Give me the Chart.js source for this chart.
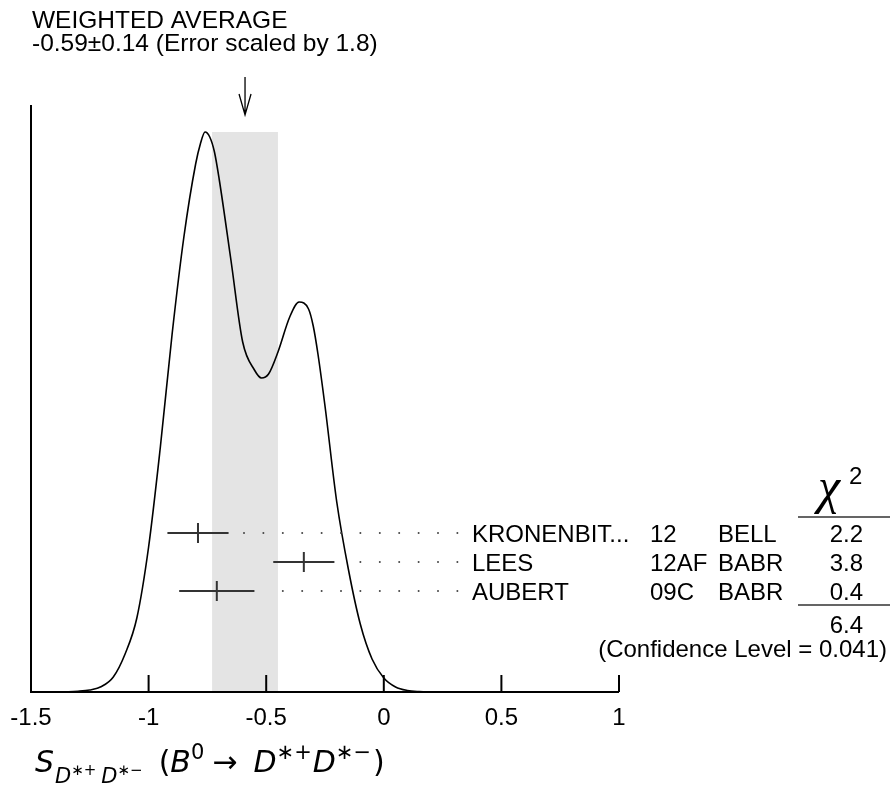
<!DOCTYPE html>
<html>
<head>
<meta charset="utf-8">
<script src="https://cdn.jsdelivr.net/npm/chart.js@4.4.1/dist/chart.umd.min.js"></script>
<style>
  html, body { margin: 0; padding: 0; background: #fff; }
  #wrap { width: 890px; height: 795px; }
</style>
</head>
<body>
<div id="wrap"><canvas id="ideogram" width="890" height="795"></canvas></div>
<script>
// ---------- Data ----------
// ideogram curve, arbitrary units
const curveX = [-1.5, -1.4, -1.3, -1.25, -1.2, -1.15, -1.1, -1.05, -1.0, -0.95, -0.9, -0.85, -0.8, -0.78, -0.76, -0.74, -0.72, -0.7, -0.65, -0.6, -0.55, -0.52, -0.49, -0.45, -0.4, -0.36, -0.32, -0.3, -0.28, -0.25, -0.2, -0.15, -0.1, -0.05, 0, 0.05, 0.1, 0.15, 0.2, 0.3, 1.0];
const curveY = [0, 0.1, 0.8, 2, 5.5, 15, 38, 74, 145, 245, 358, 455, 528, 548, 560, 555, 540, 513, 432, 350, 322, 314, 318, 340, 375, 390, 383, 366, 338, 286, 190, 122, 68, 33, 14, 5, 1.5, 0.4, 0.1, 0, 0];

const measNames = ["KRONENBIT...", "LEES", "AUBERT"];
const measYears = ["12", "12AF", "09C"];
const measExps = ["BELL", "BABR", "BABR"];
const measValues = [-0.79, -0.34, -0.71];
const measErrors = [0.13, 0.13, 0.16];
const measChi2 = ["2.2", "3.8", "0.4"];
const measRowY = [159, 130, 101]; // row heights, same units as the curve

const avgValue = -0.59;
const avgError = 0.14;
const errScale = "1.8";
const chi2Total = "6.4";
const confLevel = "0.041";

const xTicks = [-1.5, -1, -0.5, 0, 0.5, 1];
const xTickLabels = ["-1.5", "-1", "-0.5", "0", "0.5", "1"];

// ---------- Helpers ----------
const SANS = '"Liberation Sans", Arial, Helvetica, sans-serif';
const MATH = '"DejaVu Sans", sans-serif';

function drawPieces(ctx, x, y, pieces) {
  pieces.forEach((p) => {
    ctx.font = p.font;
    x += p.dx || 0;
    ctx.fillText(p.t, x, y + (p.dy || 0));
    x += ctx.measureText(p.t).width;
  });
}

// ---------- Axes, labels, error bars ----------
const ideogramDecor = {
  id: "ideogramDecor",
  afterDatasetsDraw(chart) {
    const ctx = chart.ctx;
    const xs = chart.scales.x;
    const ys = chart.scales.y;
    const area = chart.chartArea;
    ctx.save();
    ctx.fillStyle = "#000";
    ctx.strokeStyle = "#000";

    // axes
    ctx.lineWidth = 2;
    ctx.beginPath();
    ctx.moveTo(area.left, area.top);
    ctx.lineTo(area.left, area.bottom);
    ctx.lineTo(area.right, area.bottom);
    ctx.stroke();

    // inward ticks + labels
    ctx.font = "24px " + SANS;
    ctx.textAlign = "center";
    ctx.textBaseline = "alphabetic";
    xTicks.forEach((v, i) => {
      const px = xs.getPixelForValue(v);
      if (i > 0) {
        ctx.beginPath();
        ctx.moveTo(px, area.bottom);
        ctx.lineTo(px, area.bottom - 17);
        ctx.stroke();
      }
      ctx.fillText(xTickLabels[i], px, area.bottom + 33);
    });

    // arrow for the weighted average
    const ax = xs.getPixelForValue(avgValue);
    const bandTop = ys.getPixelForValue(Math.max(...curveY));
    const tip = bandTop - 17;
    ctx.lineWidth = 1.3;
    ctx.beginPath();
    ctx.moveTo(ax, tip - 38);
    ctx.lineTo(ax, tip);
    ctx.moveTo(ax - 6, tip - 21);
    ctx.lineTo(ax, tip);
    ctx.lineTo(ax + 6, tip - 21);
    ctx.stroke();

    // header text
    ctx.textAlign = "left";
    ctx.font = "24.5px " + SANS;
    ctx.fillText("WEIGHTED AVERAGE", 32, 28);
    ctx.fillText(avgValue.toFixed(2) + "\u00B1" + avgError.toFixed(2) + " (Error scaled by " + errScale + ")", 32, 51);

    // measurements: error bars, leader dots, table
    const labelX = 472;
    const dotStep = 19.4;
    measValues.forEach((v, i) => {
      const py = ys.getPixelForValue(measRowY[i]);
      const lo = xs.getPixelForValue(v - measErrors[i]);
      const hi = xs.getPixelForValue(v + measErrors[i]);
      const c = xs.getPixelForValue(v);
      ctx.strokeStyle = "#333";
      ctx.lineWidth = 2;
      ctx.beginPath();
      ctx.moveTo(lo, py);
      ctx.lineTo(hi, py);
      ctx.moveTo(c, py - 10);
      ctx.lineTo(c, py + 10);
      ctx.stroke();

      ctx.fillStyle = "#444";
      for (let dx = labelX - 14.6; dx > hi + 12; dx -= dotStep) {
        ctx.beginPath();
        ctx.arc(dx, py, 1, 0, Math.PI * 2);
        ctx.fill();
      }

      ctx.fillStyle = "#000";
      ctx.font = "24px " + SANS;
      const base = py + 9;
      ctx.textAlign = "left";
      ctx.fillText(measNames[i], labelX, base);
      ctx.fillText(measYears[i], 650, base);
      ctx.fillText(measExps[i], 718, base);
      ctx.textAlign = "right";
      ctx.fillText(measChi2[i], 863, base);
    });

    // chi2 column
    ctx.strokeStyle = "#333";
    ctx.lineWidth = 1.5;
    ctx.beginPath();
    ctx.moveTo(798, 517);
    ctx.lineTo(890, 517);
    ctx.moveTo(798, 605);
    ctx.lineTo(890, 605);
    ctx.stroke();

    ctx.fillStyle = "#000";
    ctx.textAlign = "left";
    ctx.font = 'italic 50px "Liberation Serif", serif';
    ctx.fillText("\u03C7", 818, 503);
    ctx.font = "24px " + SANS;
    ctx.fillText("2", 849, 484);

    ctx.textAlign = "right";
    ctx.fillText(chi2Total, 863, 633);
    ctx.fillText("(Confidence Level = " + confLevel + ")", 887, 657);

    // axis title
    ctx.textAlign = "left";
    const it = (s) => "italic " + s + "px " + MATH;
    const up = (s) => s + "px " + MATH;
    drawPieces(ctx, 35, 772, [
      { t: "S", font: it(30) },
      { t: "D", font: it(21), dy: 11, dx: 1 },
      { t: "\u2217+", font: up(15), dy: 3 },
      { t: "D", font: it(21), dy: 11, dx: 5 },
      { t: "\u2217\u2212", font: up(15), dy: 3 },
      { t: "(", font: up(30), dx: 16 },
      { t: "B", font: it(30) },
      { t: "0", font: up(21), dy: -13 },
      { t: "\u2192", font: up(30), dx: 8 },
      { t: "D", font: it(30), dx: 16 },
      { t: "\u2217+", font: up(21), dy: -13 },
      { t: "D", font: it(30), dx: 1 },
      { t: "\u2217\u2212", font: up(21), dy: -13 },
      { t: ")", font: up(30), dx: 2 }
    ]);

    ctx.restore();
  }
};

// ---------- Chart ----------
const curvePoints = curveX.map((x, i) => ({ x, y: curveY[i] }));
const bandPoints = [
  { x: avgValue - avgError, y: Math.max(...curveY) },
  { x: avgValue + avgError, y: Math.max(...curveY) }
];

new Chart(document.getElementById("ideogram").getContext("2d"), {
  type: "line",
  data: {
    datasets: [
      {
        label: "ideogram",
        data: curvePoints,
        borderColor: "#000",
        borderWidth: 1.6,
        pointRadius: 0,
        cubicInterpolationMode: "monotone",
        fill: false
      },
      {
        label: "average",
        data: bandPoints,
        borderWidth: 0,
        borderColor: "rgba(0,0,0,0)",
        backgroundColor: "#e4e4e4",
        pointRadius: 0,
        fill: "origin"
      }
    ]
  },
  options: {
    responsive: false,
    animation: false,
    layout: { padding: { left: 31, right: 271, top: 105, bottom: 103 } },
    scales: {
      x: { type: "linear", min: -1.5, max: 1, display: false },
      y: { type: "linear", min: 0, max: 587, display: false }
    },
    plugins: { legend: { display: false }, tooltip: { enabled: false } }
  },
  plugins: [ideogramDecor]
});
</script>
</body>
</html>
